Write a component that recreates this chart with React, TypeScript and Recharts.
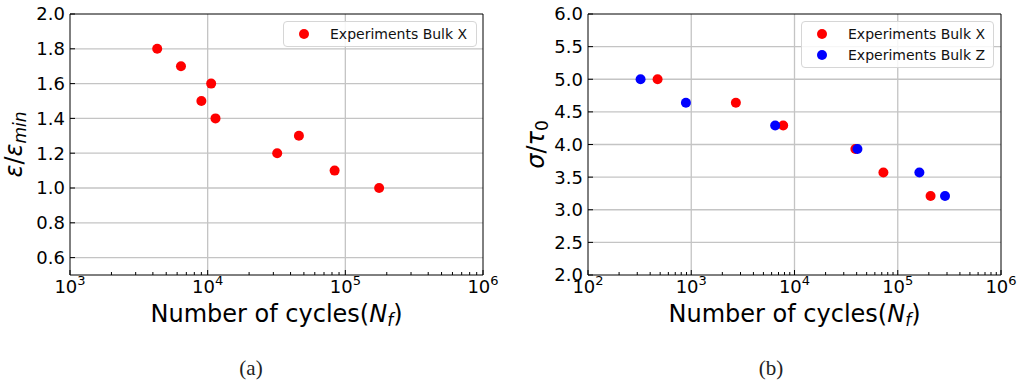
import React from 'react';
import { ScatterChart, Scatter, XAxis, YAxis, ReferenceLine, Legend, Label } from 'recharts';

// ---- Data (a) ----
const bulkX_a_cycles = [4300, 6400, 10600, 9000, 11400, 32000, 46000, 83600, 176000];
const bulkX_a_strain = [1.8, 1.7, 1.6, 1.5, 1.4, 1.2, 1.3, 1.1, 1.0];

// ---- Data (b) ----
const bulkX_b_cycles = [472, 2705, 7770, 38900, 72600, 208000];
const bulkX_b_stress = [5.0, 4.64, 4.29, 3.93, 3.57, 3.21];
const bulkZ_b_cycles = [323, 888, 6500, 40700, 162000, 287000];
const bulkZ_b_stress = [5.0, 4.64, 4.29, 3.93, 3.57, 3.21];

// ---- Ticks ----
const xMajorA = [1e3, 1e4, 1e5, 1e6];
const xMajorB = [1e2, 1e3, 1e4, 1e5, 1e6];
const yTicksA = [0.6, 0.8, 1.0, 1.2, 1.4, 1.6, 1.8, 2.0];
const yTicksB = [2.0, 2.5, 3.0, 3.5, 4.0, 4.5, 5.0, 5.5, 6.0];
const minorMultipliers = [2, 3, 4, 5, 6, 7, 8, 9];

const withMinor = (majors: number[]) => {
  const out: number[] = [];
  majors.forEach((m, i) => {
    out.push(m);
    if (i < majors.length - 1) minorMultipliers.forEach((k) => out.push(k * m));
  });
  return out;
};

const zip = (xs: number[], ys: number[]) => xs.map((x, i) => ({ x, y: ys[i] }));

const FONT = 'DejaVu Sans';
const RED = '#ff0000';
const BLUE = '#0000ff';
const GRID = '#c4c4c4';

const makeXTick = (majors: number[]) => (props: any) => {
  const { x, y, payload } = props;
  const v = payload.value;
  const isMajor = majors.some((m) => Math.abs(m - v) / m < 1e-9);
  if (!isMajor) {
    return <line x1={x} x2={x} y1={y} y2={y - 3} stroke="#000" strokeWidth={1} />;
  }
  const exp = Math.round(Math.log10(v));
  return (
    <g>
      <line x1={x} x2={x} y1={y} y2={y - 5} stroke="#000" strokeWidth={1} />
      <text x={x} y={y + 18} textAnchor="middle" fontFamily={FONT} fontSize={18} fill="#000">
        <tspan>10</tspan>
        <tspan dy={-8} fontSize={13}>{exp}</tspan>
      </text>
    </g>
  );
};

const YTick = (props: any) => {
  const { x, y, payload } = props;
  return (
    <g>
      <line x1={x} x2={x + 5} y1={y} y2={y} stroke="#000" strokeWidth={1} />
      <text x={x - 5} y={y} dy="0.36em" textAnchor="end" fontFamily={FONT} fontSize={18} fill="#000">
        {Number(payload.value).toFixed(1)}
      </text>
    </g>
  );
};

const XLabel = (props: any) => {
  const { viewBox } = props;
  const cx = viewBox.x + viewBox.width / 2;
  return (
    <text x={cx} y={viewBox.y + 47} textAnchor="middle" fontFamily={FONT} fontSize={24} fill="#000">
      <tspan>Number of cycles(</tspan>
      <tspan fontStyle="italic">N</tspan>
      <tspan fontStyle="italic" fontSize={17} dy={4}>f</tspan>
      <tspan dy={-4}>)</tspan>
    </text>
  );
};

const makeYLabel = (kind: 'a' | 'b', bx: number) => (props: any) => {
  const { viewBox } = props;
  const cy = viewBox.y + viewBox.height / 2;
  return (
    <text
      x={bx}
      y={cy}
      textAnchor="middle"
      transform={`rotate(-90, ${bx}, ${cy})`}
      fontFamily={FONT}
      fontSize={24}
      fill="#000"
    >
      {kind === 'a' ? (
        <>
          <tspan fontStyle="italic">ε</tspan>
          <tspan>/</tspan>
          <tspan fontStyle="italic">ε</tspan>
          <tspan fontStyle="italic" fontSize={17} dy={4}>min</tspan>
        </>
      ) : (
        <>
          <tspan fontStyle="italic">σ</tspan>
          <tspan>/</tspan>
          <tspan fontStyle="italic">τ</tspan>
          <tspan fontSize={17} dy={4}>0</tspan>
        </>
      )}
    </text>
  );
};

const dot = (color: string) => (props: any) => (
  <circle cx={props.cx} cy={props.cy} r={5} fill={color} stroke="none" />
);

const LegendBox = (colors: Record<string, string>) => (props: any) => {
  const { payload } = props;
  return (
    <div
      style={{
        border: '1px solid #d6d6d6',
        borderRadius: 4,
        background: 'rgba(255,255,255,0.85)',
        padding: '1px 0',
        fontFamily: FONT,
        fontSize: 14,
        color: '#111',
        boxSizing: 'border-box',
      }}
    >
      {(payload || []).map((p: any) => (
        <div key={p.value} style={{ display: 'flex', alignItems: 'center', height: 21.5 }}>
          <svg width={46} height={14} style={{ display: 'block' }}>
            <circle cx={20} cy={7} r={5} fill={colors[p.value] || p.color} />
          </svg>
          <span style={{ whiteSpace: 'nowrap' }}>{p.value}</span>
        </div>
      ))}
    </div>
  );
};

const frameLines = (xDom: [number, number], yDom: [number, number], xMajor: number[], yTicks: number[]) => [
  ...xMajor
    .filter((v) => v > xDom[0] && v < xDom[1])
    .map((v) => <ReferenceLine key={'gx' + v} x={v} stroke={GRID} strokeWidth={1.3} />),
  ...yTicks
    .filter((v) => v > yDom[0] && v < yDom[1])
    .map((v) => <ReferenceLine key={'gy' + v} y={v} stroke={GRID} strokeWidth={1.3} />),
  <ReferenceLine key="top" y={yDom[1]} stroke="#000" strokeWidth={1} />,
  <ReferenceLine key="right" x={xDom[1]} stroke="#000" strokeWidth={1} />,
];

export default function App() {
  const dataA = zip(bulkX_a_cycles, bulkX_a_strain);
  const dataBX = zip(bulkX_b_cycles, bulkX_b_stress);
  const dataBZ = zip(bulkZ_b_cycles, bulkZ_b_stress);
  const xDomA: [number, number] = [1e3, 1e6];
  const xDomB: [number, number] = [1e2, 1e6];
  const yDomA: [number, number] = [0.5, 2.0];
  const yDomB: [number, number] = [2.0, 6.0];

  return (
    <div style={{ position: 'fixed', left: 0, top: 0, width: 1023, height: 385, background: '#fff', overflow: 'hidden' }}>
      <div style={{ position: 'absolute', left: 0, top: 0 }}>
        <ScatterChart width={512} height={340} margin={{ top: 14, right: 29, bottom: 0, left: 0 }}>
          <XAxis
            dataKey="x"
            type="number"
            scale="log"
            domain={xDomA}
            allowDataOverflow
            ticks={withMinor(xMajorA)}
            interval={0}
            tickLine={false}
            tickSize={0}
            tickMargin={0}
            height={65}
            axisLine={{ stroke: '#000', strokeWidth: 1 }}
            tick={makeXTick(xMajorA)}
          >
            <Label content={XLabel} />
          </XAxis>
          <YAxis
            dataKey="y"
            type="number"
            domain={yDomA}
            allowDataOverflow
            ticks={yTicksA}
            interval={0}
            tickLine={false}
            tickSize={0}
            tickMargin={0}
            width={70}
            axisLine={{ stroke: '#000', strokeWidth: 1 }}
            tick={YTick}
          >
            <Label content={makeYLabel('a', 22)} />
          </YAxis>
          {frameLines(xDomA, yDomA, xMajorA, yTicksA)}
          <Scatter name="Experiments Bulk X" data={dataA} fill={RED} shape={dot(RED)} isAnimationActive={false} />
          <Legend
            layout="vertical"
            align="center"
            verticalAlign="middle"
            content={LegendBox({ 'Experiments Bulk X': RED })}
            wrapperStyle={{ left: 283, top: 21, width: 194 }}
          />
        </ScatterChart>
      </div>
      <div style={{ position: 'absolute', left: 512, top: 0 }}>
        <ScatterChart width={511} height={340} margin={{ top: 14, right: 22, bottom: 0, left: 0 }}>
          <XAxis
            dataKey="x"
            type="number"
            scale="log"
            domain={xDomB}
            allowDataOverflow
            ticks={withMinor(xMajorB)}
            interval={0}
            tickLine={false}
            tickSize={0}
            tickMargin={0}
            height={65}
            axisLine={{ stroke: '#000', strokeWidth: 1 }}
            tick={makeXTick(xMajorB)}
          >
            <Label content={XLabel} />
          </XAxis>
          <YAxis
            dataKey="y"
            type="number"
            domain={yDomB}
            allowDataOverflow
            ticks={yTicksB}
            interval={0}
            tickLine={false}
            tickSize={0}
            tickMargin={0}
            width={76}
            axisLine={{ stroke: '#000', strokeWidth: 1 }}
            tick={YTick}
          >
            <Label content={makeYLabel('b', 32)} />
          </YAxis>
          {frameLines(xDomB, yDomB, xMajorB, yTicksB)}
          <Scatter name="Experiments Bulk X" data={dataBX} fill={RED} shape={dot(RED)} isAnimationActive={false} />
          <Scatter name="Experiments Bulk Z" data={dataBZ} fill={BLUE} shape={dot(BLUE)} isAnimationActive={false} />
          <Legend
            layout="vertical"
            align="center"
            verticalAlign="middle"
            content={LegendBox({ 'Experiments Bulk X': RED, 'Experiments Bulk Z': BLUE })}
            wrapperStyle={{ left: 289, top: 21, width: 193 }}
          />
        </ScatterChart>
      </div>
      <div style={{ position: 'absolute', left: 226, top: 356, width: 50, textAlign: 'center', fontFamily: 'Liberation Serif', fontSize: 21, lineHeight: '24px', color: '#222' }}>
        (a)
      </div>
      <div style={{ position: 'absolute', left: 746, top: 356, width: 50, textAlign: 'center', fontFamily: 'Liberation Serif', fontSize: 21, lineHeight: '24px', color: '#222' }}>
        (b)
      </div>
    </div>
  );
}
